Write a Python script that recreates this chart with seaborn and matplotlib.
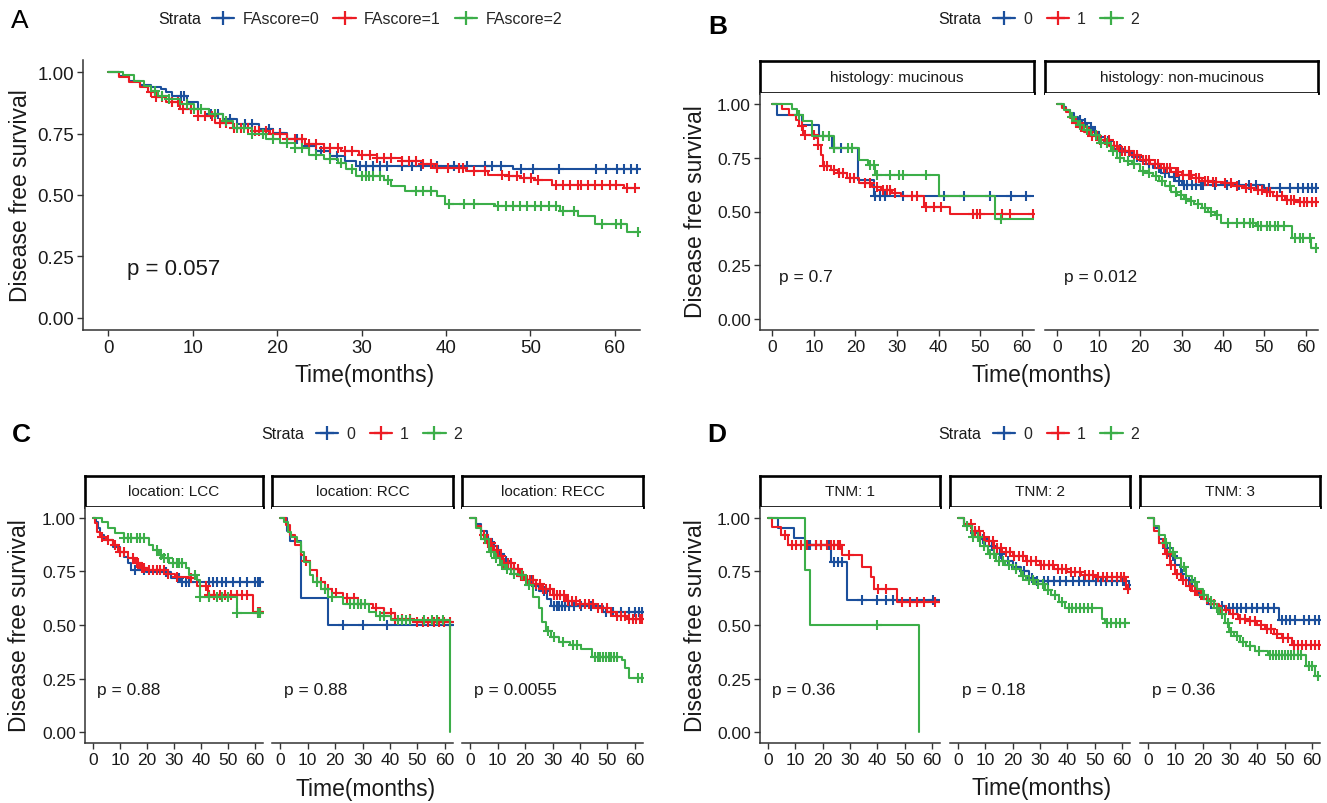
import numpy as np
import pandas as pd
import seaborn as sns
import matplotlib.pyplot as plt
from matplotlib.lines import Line2D

sns.set_theme(style="ticks")
plt.rcParams["font.family"] = ["Liberation Sans", "DejaVu Sans"]

# ---------------- data ----------------
# step curves: *_t = event times (months), *_s = survival from that time on, *_c = censor times
# A: all patients by FAscore
a0_t = [0, 1.3, 2.5, 3.8, 5.1, 6.2, 6.8, 7.6, 9.3, 10.6, 11.9, 13.6, 15.3, 17.8, 19.5, 21.2, 22.9, 24.6, 26.3, 28.0, 29.3, 47.9]
a0_s = [1.0, 0.986, 0.966, 0.948, 0.94, 0.93, 0.918, 0.904, 0.877, 0.852, 0.83, 0.81, 0.79, 0.77, 0.754, 0.727, 0.70, 0.68, 0.658, 0.638, 0.62, 0.605]
a0_c = [8.6, 9.0, 12.2, 13.0, 14.4, 16.2, 17.0, 19.0, 20.3, 22.4, 23.8, 25.2, 27.1, 29.8, 30.5, 31.4, 32.2, 33.0, 34.8,
        36.0, 37.1, 39.0, 41.0, 42.5, 44.6, 45.5, 46.5, 48.9, 50.3, 53.4, 57.8, 59.0, 60.3, 61.1, 61.9, 62.6]
a1_t = [0, 1.3, 2.5, 3.8, 4.7, 5.5, 6.8, 8.5, 10.6, 12.7, 14.8, 17.0, 19.1, 21.2, 23.3, 25.5, 27.6, 29.7, 31.8, 34.8,
        37.3, 38.6, 42.4, 45.0, 47.5, 48.8, 50.5, 52.6, 61.1]
a1_s = [1.0, 0.98, 0.96, 0.94, 0.918, 0.90, 0.877, 0.85, 0.822, 0.795, 0.775, 0.76, 0.747, 0.727, 0.706, 0.693, 0.679,
        0.665, 0.652, 0.638, 0.628, 0.61, 0.597, 0.583, 0.576, 0.57, 0.563, 0.542, 0.529]
a1_c = [5.1, 5.7, 6.4, 7.6, 8.3, 8.9, 9.8, 10.6, 11.5, 12.3, 13.2, 14.0, 14.9, 15.7, 16.6, 17.4, 17.8, 18.7, 19.5, 20.4,
        21.2, 22.1, 22.9, 23.8, 24.6, 25.5, 26.3, 27.2, 28.0, 28.9, 30.1, 31.0, 31.8, 32.7, 33.5, 34.8, 35.6, 36.5, 37.3,
        38.2, 39.0, 40.3, 41.5, 42.0, 43.3, 44.6, 46.7, 47.5, 48.4, 49.2, 50.1, 50.9, 53.0, 53.9, 54.7, 55.6, 56.0, 56.8,
        57.7, 58.5, 59.4, 60.2, 61.5, 62.4]
a2_t = [0, 1.7, 3.0, 4.2, 5.1, 5.9, 7.2, 8.5, 10.2, 11.9, 13.6, 14.8, 17.0, 18.7, 20.4, 22.1, 23.8, 25.5, 27.2, 28.2,
        29.3, 32.7, 33.5, 35.2, 39.0, 39.9, 45.8, 53.5, 55.6, 57.7, 61.5]
a2_s = [1.0, 0.99, 0.966, 0.945, 0.925, 0.904, 0.89, 0.87, 0.85, 0.83, 0.80, 0.775, 0.747, 0.727, 0.713, 0.693, 0.665,
        0.645, 0.631, 0.604, 0.576, 0.56, 0.536, 0.515, 0.495, 0.464, 0.454, 0.433, 0.413, 0.383, 0.351]
a2_c = [5.5, 6.4, 7.2, 9.3, 10.2, 11.0, 12.7, 14.0, 15.3, 16.1, 17.0, 18.3, 19.5, 21.2, 22.1, 22.9, 24.6, 26.3, 27.6,
        28.9, 30.1, 30.5, 30.9, 31.4, 32.2, 33.1, 36.5, 37.3, 38.2, 40.4, 42.1, 43.3, 46.2, 47.1, 47.9, 48.8, 49.6, 50.5,
        51.3, 52.2, 53.0, 53.9, 55.2, 58.5, 60.2, 60.7, 62.8]

# B: histology mucinous (bm) / non-mucinous (bn)
bm0_t = [0, 1.1, 7.0, 11.3, 14.4, 20.5, 24.4]
bm0_s = [1.0, 0.947, 0.90, 0.85, 0.795, 0.647, 0.573]
bm0_c = [14.8, 16.6, 24.8, 26.0, 27.0, 31.4, 41.4, 46.2, 52.3, 57.5, 61.0]
bm1_t = [0, 2.2, 3.9, 5.7, 6.5, 7.4, 10.5, 10.9, 11.8, 12.2, 14.0, 15.7, 17.9, 20.9, 24.0, 26.2, 28.8, 31.0, 36.6, 42.7]
bm1_s = [1.0, 0.974, 0.95, 0.927, 0.896, 0.857, 0.842, 0.81, 0.764, 0.71, 0.694, 0.679, 0.655, 0.632, 0.616, 0.60,
         0.585, 0.573, 0.523, 0.488]
bm1_c = [7.0, 7.8, 10.0, 10.9, 12.5, 13.1, 14.8, 16.1, 17.0, 18.7, 19.6, 22.2, 23.5, 25.3, 26.6, 27.5, 28.3, 29.6,
         33.6, 34.9, 37.0, 38.8, 40.5, 48.4, 49.2, 50.1, 55.4, 57.1, 62.8]
bm2_t = [0, 4.8, 6.0, 7.3, 9.5, 14.8, 20.9, 23.1, 24.8, 40.1, 53.6]
bm2_s = [1.0, 0.974, 0.95, 0.92, 0.85, 0.795, 0.74, 0.717, 0.67, 0.573, 0.466]
bm2_c = [6.5, 12.2, 13.5, 14.8, 18.3, 19.2, 23.5, 24.4, 25.3, 28.3, 30.5, 31.4, 37.0, 55.0]

bn0_t = [0, 1.0, 2.0, 3.0, 4.0, 5.0, 6.0, 7.0, 8.5, 10.0, 11.5, 13.0, 14.5, 16.0, 18.0, 20.0, 21.5, 23.0, 25.0, 27.0,
         28.5, 30.0, 50.0]
bn0_s = [1.0, 0.985, 0.97, 0.955, 0.94, 0.925, 0.91, 0.89, 0.87, 0.845, 0.825, 0.805, 0.79, 0.775, 0.755, 0.735, 0.72,
         0.70, 0.68, 0.66, 0.64, 0.625, 0.61]
bn0_c = [5.4, 6.6, 7.2, 8.1, 9.0, 12.2, 15.1, 17.4, 19.2, 22.1, 24.6, 26.0, 28.2, 29.4, 30.6, 31.3, 32.5, 33.4, 34.6,
         35.3, 38.2, 41.0, 43.8, 46.4, 48.1, 51.2, 53.8, 56.3, 58.1, 59.4, 60.7, 61.5, 62.6]
bn1_t = [0, 1.0, 2.0, 3.0, 4.0, 5.0, 6.5, 8.0, 10.0, 12.5, 15.0, 17.5, 20.0, 22.5, 25.0, 27.5, 30.0, 32.5, 35.0, 37.5,
         40.0, 42.5, 45.0, 47.5, 50.0, 52.0, 55.0, 58.0]
bn1_s = [1.0, 0.98, 0.96, 0.935, 0.91, 0.89, 0.87, 0.85, 0.83, 0.805, 0.78, 0.76, 0.74, 0.72, 0.70, 0.685, 0.67, 0.655,
         0.64, 0.635, 0.63, 0.62, 0.61, 0.60, 0.59, 0.57, 0.555, 0.545]
bn1_c = [4.4, 5.6, 6.3, 7.7, 8.4, 9.6, 10.3, 11.6, 12.4, 13.7, 14.3, 15.6, 16.4, 17.2, 18.6, 19.3, 20.7, 21.4, 22.2,
         23.6, 24.3, 25.7, 26.4, 27.3, 28.6, 29.2, 30.4, 31.7, 32.3, 33.6, 34.2, 35.7, 36.3, 37.6, 38.4, 40.6, 41.9, 43.4,
         45.7, 46.8, 48.6, 49.4, 50.7, 51.4, 53.1, 54.2, 55.6, 56.4, 57.3, 58.7, 59.6, 60.4, 61.6, 62.5]
bn2_t = [0, 1.5, 3.0, 4.0, 5.0, 6.5, 8.0, 10.0, 13.0, 14.5, 16.0, 18.0, 20.0, 21.5, 23.0, 24.5, 26.0, 27.5, 29.0, 30.5,
         31.5, 33.0, 35.0, 36.5, 38.0, 39.5, 48.0, 56.8, 61.2]
bn2_s = [1.0, 0.97, 0.94, 0.92, 0.90, 0.88, 0.855, 0.82, 0.78, 0.75, 0.735, 0.72, 0.69, 0.68, 0.665, 0.64, 0.62, 0.59,
         0.575, 0.56, 0.547, 0.535, 0.516, 0.50, 0.484, 0.446, 0.432, 0.376, 0.33]
bn2_c = [3.6, 5.4, 7.1, 9.4, 10.6, 12.1, 13.4, 15.2, 17.1, 18.4, 20.6, 22.1, 23.8, 25.4, 27.1, 28.6, 29.8, 31.1, 32.4,
         33.9, 35.6, 37.2, 38.6, 41.2, 43.4, 45.1, 46.6, 47.4, 48.6, 49.3, 50.6, 51.4, 52.6, 53.3, 54.7, 57.4, 58.6, 59.3,
         61.0, 62.6]

# C: tumour location LCC (cl) / RCC (cr) / RECC (ce)
cl0_t = [0, 0.9, 1.8, 2.7, 4.0, 7.4, 10.1, 11.5, 12.8, 14.2, 19.5, 29.0, 32.3]
cl0_s = [1.0, 0.98, 0.95, 0.92, 0.896, 0.865, 0.84, 0.818, 0.787, 0.756, 0.748, 0.717, 0.70]
cl0_c = [15.5, 18.9, 27.0, 31.8, 33.1, 34.4, 35.7, 43.1, 44.5, 45.8, 47.8, 49.2, 51.9, 54.6, 57.2, 59.9, 61.3, 62.0]
cl1_t = [0, 0.7, 1.4, 2.7, 4.7, 7.4, 9.4, 12.8, 15.5, 17.5, 20.2, 27.6, 30.3, 35.7, 38.4, 42.5, 59.3]
cl1_s = [1.0, 0.974, 0.935, 0.91, 0.896, 0.873, 0.84, 0.81, 0.787, 0.764, 0.756, 0.74, 0.725, 0.717, 0.68, 0.64, 0.562]
cl1_c = [3.4, 5.4, 8.0, 10.0, 11.3, 14.8, 16.2, 16.8, 18.2, 18.9, 20.9, 22.2, 23.6, 24.9, 26.3, 27.6, 31.0, 36.4, 41.8,
         43.1, 45.0, 47.0, 49.0, 51.0, 53.2, 55.2, 57.2, 61.3, 62.0]
cl2_t = [0, 3.4, 5.4, 8.0, 11.5, 20.9, 22.2, 24.3, 25.6, 28.3, 34.4, 35.7, 38.4, 39.8, 53.2]
cl2_s = [1.0, 0.98, 0.95, 0.927, 0.904, 0.873, 0.85, 0.826, 0.81, 0.787, 0.764, 0.733, 0.71, 0.632, 0.554]
cl2_c = [11.5, 12.8, 14.2, 16.2, 17.5, 18.9, 23.6, 25.0, 26.3, 27.6, 29.7, 31.0, 31.7, 33.0, 37.7, 39.8, 43.1, 45.8,
         47.8, 49.9, 53.2, 61.3, 62.0]

cr0_t = [0, 2.5, 3.4, 7.4, 17.5]
cr0_s = [1.0, 0.94, 0.89, 0.625, 0.50]
cr0_c = [22.9, 30.3, 39.1, 62.0]
cr1_t = [0, 2.0, 3.4, 5.4, 7.4, 8.8, 10.8, 13.5, 16.2, 18.9, 22.9, 28.3, 33.7, 37.7, 41.8, 48.5]
cr1_s = [1.0, 0.966, 0.92, 0.873, 0.826, 0.80, 0.756, 0.70, 0.67, 0.648, 0.624, 0.60, 0.578, 0.554, 0.53, 0.516]
cr1_c = [9.4, 14.8, 17.5, 20.2, 24.3, 27.0, 29.6, 35.0, 37.7, 40.4, 41.8, 44.5, 47.2, 49.9, 51.9, 53.9, 55.9, 57.9,
         59.9, 62.0]
cr2_t = [0, 1.3, 2.7, 4.0, 6.0, 7.4, 8.8, 10.8, 12.1, 14.8, 17.5, 22.9, 32.3, 35.0, 40.4, 62.0]
cr2_s = [1.0, 0.98, 0.935, 0.91, 0.888, 0.84, 0.795, 0.733, 0.70, 0.67, 0.632, 0.60, 0.562, 0.54, 0.523, 0.0]
cr2_c = [13.5, 16.2, 18.9, 25.6, 27.0, 28.3, 29.6, 31.0, 36.4, 37.7, 43.0, 44.5, 45.8, 47.2, 52.6, 55.3, 57.3, 59.3]

ce0_t = [0, 2, 4, 6, 8, 10, 12, 15, 18, 20, 23, 25, 28, 29.6, 48.5]
ce0_s = [1.0, 0.97, 0.94, 0.90, 0.87, 0.83, 0.80, 0.76, 0.73, 0.71, 0.68, 0.66, 0.62, 0.59, 0.562]
ce0_c = [6.5, 8.5, 11.0, 13.0, 16.0, 19.0, 22.0, 24.0, 27.0, 30.5, 31.5, 32.5, 33.5, 34.5, 36.0, 38.0, 40.5, 44.0,
         49.5, 52.0, 55.0, 58.0, 60.0, 61.5, 62.5]
ce1_t = [0, 2, 4, 6, 8, 10, 12, 15, 18, 20, 23, 26, 30, 35, 40, 45, 50, 53, 57]
ce1_s = [1.0, 0.96, 0.92, 0.88, 0.85, 0.82, 0.79, 0.76, 0.73, 0.71, 0.69, 0.67, 0.64, 0.61, 0.60, 0.58, 0.56, 0.54, 0.53]
ce1_c = [5.2, 6.4, 7.7, 8.6, 9.8, 11.2, 12.4, 13.6, 14.7, 16.1, 17.3, 18.6, 19.4, 20.8, 21.7, 22.9, 24.1, 25.3, 26.6,
         27.8, 29.1, 30.4, 31.6, 32.9, 34.2, 35.8, 37.1, 38.6, 40.2, 41.7, 43.3, 44.8, 46.6, 48.2, 49.7, 51.4, 53.6, 55.1,
         56.4, 57.8, 59.2, 60.6, 61.8, 62.7]
ce2_t = [0, 2, 4, 6.7, 8.5, 10.8, 12.5, 14.8, 17.5, 20.2, 22.9, 24.9, 26.3, 27.6, 29.6, 32.3, 36.4, 40.4, 44.5, 55.3,
         56.6, 58.0]
ce2_s = [1.0, 0.95, 0.90, 0.84, 0.81, 0.78, 0.76, 0.74, 0.733, 0.686, 0.632, 0.578, 0.516, 0.47, 0.446, 0.42, 0.407,
         0.39, 0.353, 0.337, 0.30, 0.255]
ce2_c = [5.5, 7.5, 9.5, 11.5, 13.5, 16.0, 19.0, 21.5, 28.5, 30.5, 34.0, 37.5, 39.0, 45.5, 46.5, 47.5, 48.5, 49.5, 50.5,
         51.5, 52.5, 53.5, 61.0, 62.5]

# D: TNM stage 1 / 2 / 3
d10_t = [0, 3.6, 9.4, 13.5, 22.9, 29.0]
d10_s = [1.0, 0.95, 0.904, 0.873, 0.795, 0.618]
d10_c = [14.8, 15.5, 17.5, 19.5, 22.2, 24.3, 25.6, 27.0, 34.4, 39.8, 43.1, 45.8, 60.6]
d11_t = [0, 1.3, 4.7, 7.4, 27.0, 34.4, 37.7, 38.7, 47.2]
d11_s = [1.0, 0.958, 0.92, 0.873, 0.826, 0.772, 0.725, 0.67, 0.609]
d11_c = [6.0, 8.7, 10.1, 12.1, 14.1, 17.5, 19.5, 21.6, 22.9, 24.3, 25.6, 26.3, 29.6, 40.4, 43.1, 49.2, 51.9, 54.6,
         57.3, 61.3]
d12_t = [0, 13.5, 15.2, 55.3]
d12_s = [1.0, 0.756, 0.50, 0.0]
d12_c = [39.8]

d20_t = [0, 2, 5, 8, 10, 13, 16, 20, 23, 26, 28, 61]
d20_s = [1.0, 0.97, 0.93, 0.90, 0.87, 0.83, 0.80, 0.77, 0.75, 0.72, 0.705, 0.685]
d20_c = [6.2, 9.1, 12.3, 15.4, 18.2, 21.3, 24.1, 27.2, 29.0, 31.3, 33.1, 35.2, 37.4, 39.6, 42.1, 44.2, 46.3, 48.1, 50.4,
         52.2, 54.1, 56.3, 58.2, 60.5, 62.5]
d21_t = [0, 2, 5, 8, 10, 13, 16, 20, 25, 30, 35, 40, 45, 50, 61.5]
d21_s = [1.0, 0.97, 0.94, 0.91, 0.89, 0.86, 0.84, 0.82, 0.80, 0.78, 0.76, 0.745, 0.735, 0.725, 0.67]
d21_c = [4.6, 6.3, 7.8, 9.4, 11.2, 12.6, 14.3, 15.8, 17.4, 18.9, 20.6, 22.3, 23.7, 25.4, 26.8, 28.5, 30.2, 31.6, 33.3,
         34.8, 36.6, 38.1, 39.7, 41.4, 43.0, 44.6, 46.4, 48.0, 49.6, 51.3, 53.1, 54.7, 56.4, 58.1, 59.6, 60.8, 62.4]
d22_t = [0, 2, 5, 8, 11, 14, 17, 20, 23, 25, 28, 32, 34, 37, 39, 52.6, 53.9]
d22_s = [1.0, 0.96, 0.91, 0.87, 0.83, 0.80, 0.78, 0.76, 0.73, 0.71, 0.69, 0.665, 0.64, 0.609, 0.578, 0.53, 0.508]
d22_c = [3.4, 5.6, 7.4, 9.6, 11.8, 13.2, 15.1, 16.4, 18.6, 21.2, 23.6, 25.8, 27.3, 29.4, 31.2, 33.1, 35.6, 38.2, 40.6,
         41.7, 43.2, 44.6, 46.1, 47.6, 49.2, 54.6, 56.2, 57.8, 59.4, 61.3]

d30_t = [0, 2, 4, 6, 8, 10, 12, 14, 16, 18, 20, 22, 25.6, 28.3, 47.8]
d30_s = [1.0, 0.95, 0.90, 0.86, 0.82, 0.78, 0.74, 0.71, 0.68, 0.65, 0.62, 0.60, 0.59, 0.578, 0.523]
d30_c = [7.0, 9.0, 12.5, 15.0, 19.0, 23.0, 27.0, 29.5, 31.0, 32.5, 34.0, 36.0, 38.0, 40.0, 42.0, 44.0, 46.0, 49.0,
         50.5, 52.0, 54.0, 57.0, 59.0, 61.0, 62.5]
d31_t = [0, 2, 4, 6, 8, 10, 12, 14, 16, 18, 20, 23, 26, 30, 33, 36, 40, 43, 46, 49, 52.6]
d31_s = [1.0, 0.94, 0.88, 0.83, 0.78, 0.74, 0.71, 0.68, 0.66, 0.64, 0.62, 0.60, 0.57, 0.55, 0.53, 0.52, 0.50, 0.48,
         0.46, 0.44, 0.407]
d31_c = [5.3, 6.8, 8.4, 10.7, 12.9, 15.2, 17.1, 19.4, 21.6, 24.2, 26.8, 28.6, 31.2, 33.8, 35.4, 37.3, 39.1, 41.4, 43.6,
         45.2, 47.3, 49.6, 51.4, 53.6, 54.8, 56.4, 57.9, 59.6, 61.2, 62.6]
d32_t = [0, 2, 4, 6, 8, 10, 12, 14, 16, 18, 20, 22, 24, 26, 28, 29.6, 31.5, 33.7, 36, 39, 43.8, 58, 61.3]
d32_s = [1.0, 0.96, 0.92, 0.88, 0.84, 0.81, 0.77, 0.73, 0.70, 0.67, 0.64, 0.61, 0.58, 0.55, 0.51, 0.469, 0.45, 0.42,
         0.40, 0.38, 0.36, 0.31, 0.26]
d32_c = [6.4, 9.2, 13.1, 17.3, 20.6, 23.1, 25.4, 27.2, 29.1, 30.3, 32.6, 34.8, 37.2, 40.6, 44.6, 45.7, 46.8, 47.9, 49.1,
         50.2, 51.3, 52.4, 53.6, 54.8, 55.9, 58.8, 59.9, 62.4]

strata_colors = ["#1b4f9c", "#ec1c24", "#3cae49"]

# ---------------- drawing ----------------
W, H = 1327, 804
fig = plt.figure(figsize=(W / 100, H / 100), dpi=100)


def add_ax(l, r, t, b):
    return fig.add_axes([l / W, 1 - b / H, (r - l) / W, (b - t) / H])


def km(ax, t, s, cens, color):
    t, s = list(t), list(s)
    if s[-1] > 0:  # curve runs on to the end of follow-up
        t.append(66)
        s.append(s[-1])
    df = pd.DataFrame({"time": t, "surv": s})
    sns.lineplot(data=df, x="time", y="surv", ax=ax, color=color, lw=1.5,
                 drawstyle="steps-post", estimator=None, sort=False)
    idx = np.searchsorted(t, cens, side="right") - 1
    ax.plot(cens, np.array(s)[idx], ls="none", marker="+", ms=7.5, mew=1.5, color=color)


def style_axis(ax, show_y, fs):
    ax.set_xlim(-3, 63)
    ax.set_ylim(-0.05, 1.05)
    ax.set_xticks(range(0, 61, 10))
    ax.set_yticks([0, 0.25, 0.5, 0.75, 1.0])
    ax.set_yticklabels(["0.00", "0.25", "0.50", "0.75", "1.00"])
    ax.set_xlabel("")
    ax.set_ylabel("")
    ax.tick_params(labelsize=fs, length=4, width=1.0, color="#333333", pad=2.5, labelcolor="#1a1a1a")
    ax.spines["top"].set_visible(False)
    ax.spines["right"].set_visible(False)
    for sp in ("left", "bottom"):
        ax.spines[sp].set_linewidth(1.1)
        ax.spines[sp].set_color("#333333")
    if not show_y:
        ax.spines["left"].set_visible(False)
        ax.tick_params(axis="y", left=False, labelleft=False)


def strip(l, r, t, b, label):
    s = add_ax(l, r, t, b)
    s.set_xticks([])
    s.set_yticks([])
    s.set_facecolor("white")
    for sp in s.spines.values():
        sp.set_visible(True)
        sp.set_linewidth(1.9)
        sp.set_color("black")
    s.text(0.5, 0.5, label, ha="center", va="center", fontsize=11, color="#1a1a1a", transform=s.transAxes)


def strata_legend(x_text, x_leg, y, labels):
    fig.text(x_text / W, 1 - y / H, "Strata", ha="left", va="center", fontsize=11.5, color="#1a1a1a")
    handles = [Line2D([0], [0], color=c, lw=1.6, marker="+", ms=10, mew=1.6) for c in strata_colors]
    fig.legend(handles, labels, loc="center left", bbox_to_anchor=(x_leg / W, 1 - y / H), ncol=3,
               frameon=False, fontsize=11.5, handlelength=1.4, handletextpad=0.5, columnspacing=0.9,
               borderpad=0, borderaxespad=0)


def facet_panel(boxes, strip_top, strip_bot, ax_bot, labels, curves, pvals, fs):
    for i, ((l, r), lab, cur, pv) in enumerate(zip(boxes, labels, curves, pvals)):
        strip(l, r, strip_top, strip_bot, lab)
        ax = add_ax(l, r, strip_bot, ax_bot)
        for (t, s, c), col in zip(cur, strata_colors):
            km(ax, t, s, c, col)
        style_axis(ax, i == 0, fs)
        ax.text(1.5, 0.2, pv, ha="left", va="center", fontsize=12.5, color="#1a1a1a")


# panel A
axA = add_ax(83, 640, 61, 331)
for (t, s, c), col in zip([(a0_t, a0_s, a0_c), (a1_t, a1_s, a1_c), (a2_t, a2_s, a2_c)], strata_colors):
    km(axA, t, s, c, col)
style_axis(axA, True, 13.5)
axA.text(2.2, 0.2, "p = 0.057", ha="left", va="center", fontsize=16, color="#1a1a1a")
strata_legend(158, 212, 20, ["FAscore=0", "FAscore=1", "FAscore=2"])

# panel B
facet_panel([(760, 1034), (1045, 1318)], 62, 94, 331,
            ["histology: mucinous", "histology: non-mucinous"],
            [[(bm0_t, bm0_s, bm0_c), (bm1_t, bm1_s, bm1_c), (bm2_t, bm2_s, bm2_c)],
             [(bn0_t, bn0_s, bn0_c), (bn1_t, bn1_s, bn1_c), (bn2_t, bn2_s, bn2_c)]],
            ["p = 0.7", "p = 0.012"], 12.5)
strata_legend(938, 993, 20, ["0", "1", "2"])

# panel C
facet_panel([(85, 263), (272, 453), (462, 643)], 477, 508, 744,
            ["location: LCC", "location: RCC", "location: RECC"],
            [[(cl0_t, cl0_s, cl0_c), (cl1_t, cl1_s, cl1_c), (cl2_t, cl2_s, cl2_c)],
             [(cr0_t, cr0_s, cr0_c), (cr1_t, cr1_s, cr1_c), (cr2_t, cr2_s, cr2_c)],
             [(ce0_t, ce0_s, ce0_c), (ce1_t, ce1_s, ce1_c), (ce2_t, ce2_s, ce2_c)]],
            ["p = 0.88", "p = 0.88", "p = 0.0055"], 12.5)
strata_legend(261, 316, 435, ["0", "1", "2"])

# panel D
facet_panel([(760, 940), (950, 1130), (1140, 1320)], 477, 508, 744,
            ["TNM: 1", "TNM: 2", "TNM: 3"],
            [[(d10_t, d10_s, d10_c), (d11_t, d11_s, d11_c), (d12_t, d12_s, d12_c)],
             [(d20_t, d20_s, d20_c), (d21_t, d21_s, d21_c), (d22_t, d22_s, d22_c)],
             [(d30_t, d30_s, d30_c), (d31_t, d31_s, d31_c), (d32_t, d32_s, d32_c)]],
            ["p = 0.36", "p = 0.18", "p = 0.36"], 12.5)
strata_legend(938, 993, 435, ["0", "1", "2"])

# shared axis titles and panel letters
for x, y in [(21, 196), (695, 212), (20, 626), (696, 626)]:
    fig.text(x / W, 1 - y / H, "Disease free survival", rotation=90, ha="center", va="center",
             fontsize=16.5, color="#1a1a1a")
for x, y in [(365, 376), (1042, 376), (366, 790), (1042, 789)]:
    fig.text(x / W, 1 - y / H, "Time(months)", ha="center", va="center", fontsize=16.5, color="#1a1a1a")
for lab, x, y, wt in [("A", 20, 21, "normal"), ("B", 718, 27, "bold"), ("C", 21, 435, "bold"), ("D", 717, 435, "bold")]:
    fig.text(x / W, 1 - y / H, lab, ha="center", va="center", fontsize=19, fontweight=wt, color="black")

fig.savefig("out.png", dpi=100)
